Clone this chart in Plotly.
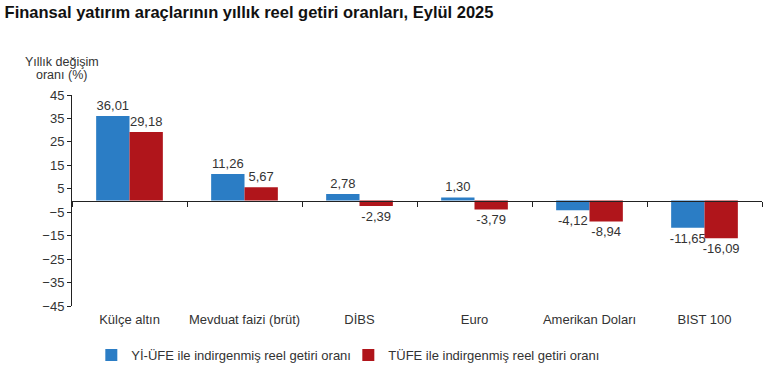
import plotly.graph_objects as go

categories = ["Külçe altın", "Mevduat faizi (brüt)", "DİBS", "Euro", "Amerikan Doları", "BIST 100"]
yiufe_values = [36.01, 11.26, 2.78, 1.30, -4.12, -11.65]
tufe_values = [29.18, 5.67, -2.39, -3.79, -8.94, -16.09]
series_names = ["Yİ-ÜFE ile indirgenmiş reel getiri oranı", "TÜFE ile indirgenmiş reel getiri oranı"]
y_ticks = [45, 35, 25, 15, 5, -5, -15, -25, -35, -45]
y_title_lines = ["Yıllık değişim", "oranı (%)"]

BLUE = "#2B7DC5"
RED = "#B0151B"
FONT = "Liberation Sans, Arial, sans-serif"
TXT = "#333333"

def fmt(v):
    return f"{v:.2f}".replace(".", ",")

fig = go.Figure()
for name, vals, col in [(series_names[0], yiufe_values, BLUE), (series_names[1], tufe_values, RED)]:
    fig.add_trace(go.Bar(
        x=categories, y=vals, name=name, marker=dict(color=col, line=dict(width=0)),
        text=[fmt(v) for v in vals], textposition="outside", cliponaxis=False,
        constraintext="none",
        textfont=dict(family=FONT, size=13, color=TXT),
    ))

# invisible trace to carry the axis line at zero
fig.add_trace(go.Scatter(x=categories, y=[None] * len(categories), xaxis="x2", yaxis="y",
                         showlegend=False, hoverinfo="skip", mode="markers"))

fig.update_layout(
    width=770, height=373,
    margin=dict(l=72, r=8, t=95, b=67, autoexpand=False),
    paper_bgcolor="white", plot_bgcolor="white",
    barmode="group", bargap=0.42, bargroupgap=0,
    uniformtext=dict(mode=False),
    font=dict(family=FONT, size=13, color=TXT),
    title=dict(text="<b>Finansal yatırım araçlarının yıllık reel getiri oranları, Eylül 2025</b>",
               x=0.006, xanchor="left", y=0.967, yanchor="middle",
               font=dict(family=FONT, size=16.5, color="#111111")),
    xaxis=dict(type="category", categoryarray=categories, showline=False, ticks="",
               showgrid=False, tickfont=dict(family=FONT, size=13, color=TXT), ticklabelstandoff=4,
               automargin=False),
    xaxis2=dict(type="category", categoryarray=categories, overlaying="x", anchor="free",
                position=0.5, matches="x", showline=True, linecolor="#222222", linewidth=1,
                ticks="outside", tickson="boundaries", ticklen=5, tickcolor="#222222",
                showticklabels=False, showgrid=False, automargin=False),
    yaxis=dict(range=[-45, 45], tickvals=y_ticks, showline=True, linecolor="#222222", linewidth=1,
               ticks="outside", ticklen=4, tickcolor="#222222", showgrid=False, zeroline=False,
               tickfont=dict(family=FONT, size=13, color=TXT), automargin=False),
    legend=dict(orientation="h", x=0.028, xanchor="left", yref="container", y=0.048, yanchor="middle",
                font=dict(family=FONT, size=13, color=TXT), itemwidth=30,
                tracegroupgap=0, entrywidthmode="pixels", entrywidth=212),
    showlegend=True,
)

for i, line in enumerate(y_title_lines):
    fig.add_annotation(text=line, xref="paper", yref="paper",
                       x=-0.015, y=1.0, xanchor="center", yanchor="middle",
                       yshift=33 - 13 * i, showarrow=False,
                       font=dict(family=FONT, size=12.5, color=TXT))

fig.write_html("out.html", config={"displayModeBar": False},
               post_script="document.body.style.margin='0';document.body.style.overflow='hidden';")
